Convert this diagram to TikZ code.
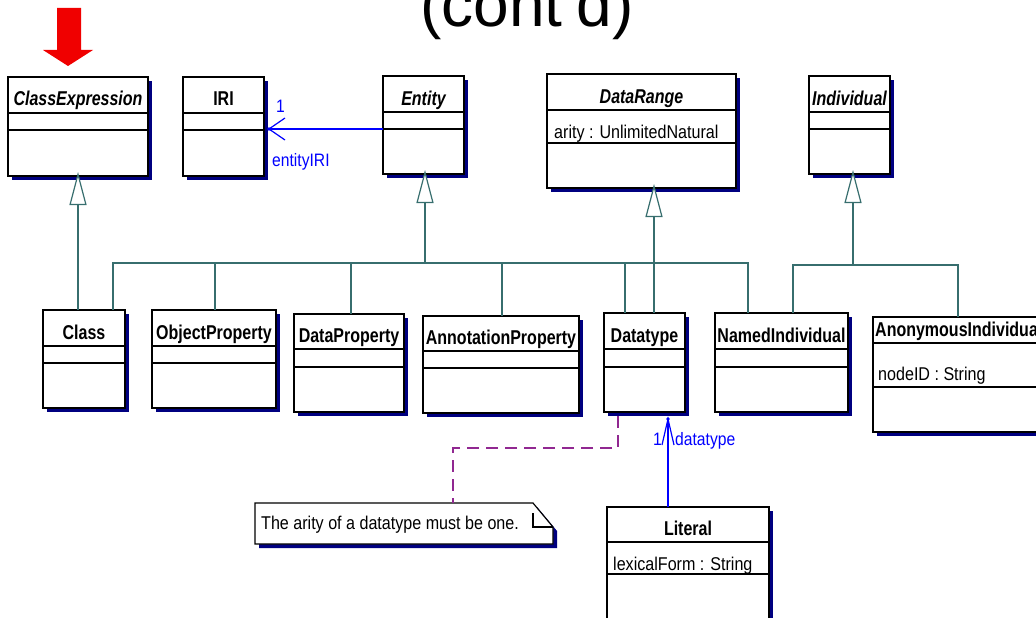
\documentclass[tikz,border=0pt]{standalone}
\usepackage{fontspec}
\setmainfont{Liberation Sans}
\newfontfamily\attrfont[FakeStretch=0.87]{Liberation Sans}
\newfontfamily\namefont[FakeStretch=0.80]{Liberation Sans}
\usetikzlibrary{arrows.meta, calc}

\definecolor{umlnavy}{RGB}{0,0,128}
\definecolor{gencol}{RGB}{55,110,110}
\definecolor{assoccol}{RGB}{0,0,255}
\definecolor{notecol}{RGB}{145,40,145}
\definecolor{pointer}{RGB}{240,0,0}

\tikzset{
  umlshadow/.style={fill=umlnavy},
  classbox/.style={draw=black, fill=white, line width=1.2pt, inner sep=0pt,
    outer sep=0pt, anchor=north west, rectangle},
  compart/.style={draw=black, line width=1.2pt},
  cname/.style={anchor=base, inner sep=0pt, font=\namefont\bfseries\fontsize{20}{20}\selectfont},
  cattr/.style={anchor=base west, inner sep=0pt, font=\attrfont\fontsize{18.5}{18.5}\selectfont},
  rolelabel/.style={anchor=base west, inner sep=0pt, text=assoccol,
    font=\attrfont\fontsize{18}{18}\selectfont},
  inh/.style={draw=gencol, line width=1.2pt},
  gen/.style={inh, -{Triangle[open, length=33pt, width=17pt, line width=1.2pt, fill=white]}},
  assoc/.style={draw=assoccol, line width=1.2pt},
  headdot/.style={fill=assoccol},
  notelink/.style={draw=notecol, line width=1.2pt, dash pattern=on 12pt off 7pt},
}

% class box: name, left, top, right, bottom, first and second compartment lines
\newcommand\umlclass[7]{%
  \fill[umlshadow] (#2+4,#3+4) rectangle (#4+4,#5+4);
  \node[classbox, minimum width={#4-#2}, minimum height={#5-#3}] (#1) at (#2,#3) {};
  \draw[compart] (#2,#6) -- (#4,#6) (#2,#7) -- (#4,#7);
}

\begin{document}
\begin{tikzpicture}[x=1pt, y=-1pt]
\useasboundingbox (0,0) rectangle (1036,618);
\clip (0,0) rectangle (1036,618);

% heading, cut by the top edge
\node[anchor=base west, inner sep=0pt, font=\fontsize{64}{64}\selectfont] (heading) at (420,27) {(cont'd)};

% red pointer
\fill[pointer] (57,8) -- (81,8) -- (81,50) -- (93,50) -- (68,66) -- (43,50) -- (57,50) -- cycle;

% upper row
\umlclass{ClassExpression}{8}{77}{148}{176}{113}{130}
\umlclass{IRI}{183}{77}{264}{176}{113}{130}
\umlclass{Entity}{383}{76}{464}{174}{112}{129}
\umlclass{DataRange}{547}{74}{736}{188}{110}{143}
\umlclass{Individual}{809}{76}{890}{174}{112}{129}

% lower row
\umlclass{Class}{43}{310}{125}{408}{346}{363}
\umlclass{ObjectProperty}{152}{310}{276}{408}{346}{363}
\umlclass{DataProperty}{294}{314}{404}{412}{349}{367}
\umlclass{AnnotationProperty}{423}{316}{579}{413}{351}{368}
\umlclass{Datatype}{604}{313}{685}{412}{349}{367}
\umlclass{NamedIndividual}{715}{313}{848}{412}{349}{367}
\umlclass{AnonymousIndividual}{873}{317}{1060}{432}{343}{387}
\umlclass{Literal}{607}{507}{769}{640}{542}{574}

% class names
\node[cname] (ClassExpression-n) at (78,106) {\itshape ClassExpression};
\node[cname] (IRI-n) at (223.5,106) {IRI};
\node[cname] (Entity-n) at (423.5,105) {\itshape Entity};
\node[cname] (DataRange-n) at (641.5,103) {\itshape DataRange};
\node[cname] (Individual-n) at (849.5,105) {\itshape Individual};
\node[cname] (Class-n) at (84,339) {Class};
\node[cname] (ObjectProperty-n) at (214,339) {ObjectProperty};
\node[cname] (DataProperty-n) at (349,342) {DataProperty};
\node[cname] (AnnotationProperty-n) at (501,344) {AnnotationProperty};
\node[cname] (Datatype-n) at (644.5,342) {Datatype};
\node[cname] (NamedIndividual-n) at (781.5,342) {NamedIndividual};
\node[cname, anchor=base west] (AnonymousIndividual-n) at (875,336) {AnonymousIndividual};
\node[cname] (Literal-n) at (688,535) {Literal};

% attributes
\node[cattr] (DataRange-a) at (554,138) {arity : UnlimitedNatural};
\node[cattr] (AnonymousIndividual-a) at (878,380) {nodeID : String};
\node[cattr] (Literal-a) at (613,570) {lexicalForm : String};

% generalisation: ClassExpression
\draw[gen, shorten >=-4pt] ([xshift=35pt]Class.north west) -- (ClassExpression.south);

% generalisation: Entity and its subclasses
\coordinate (eb) at (425,263);
\draw[gen, shorten >=-4pt] (eb) -- (eb |- Entity.south);
\draw[inh] (eb) -| ([xshift=70pt]Class.north west);
\draw[inh] (eb) -| ([xshift=63pt]ObjectProperty.north west);
\draw[inh] (eb) -| ([xshift=57pt]DataProperty.north west);
\draw[inh] (eb) -| ([xshift=79pt]AnnotationProperty.north west);
\draw[inh] (eb) -| ([xshift=21pt]Datatype.north west);
\draw[inh] (eb) -| ([xshift=33pt]NamedIndividual.north west);

% generalisation: DataRange
\coordinate (drb) at ([xshift=50pt]Datatype.north west);
\draw[gen, shorten >=-4pt] (drb) -- (drb |- DataRange.south);

% generalisation: Individual
\coordinate (ib) at (853,265);
\draw[gen, shorten >=-4pt] (ib) -- (ib |- Individual.south);
\draw[inh] (ib) -| ([xshift=78pt]NamedIndividual.north west);
\draw[inh] (ib) -| ([xshift=85pt]AnonymousIndividual.north west);

% association Entity -> IRI, open head at the IRI side
\coordinate (ea) at ([yshift=-4pt]Entity.west);
\coordinate (iritip) at ($(ea -| IRI.east)+(5,0)$);
\draw[assoc] (ea) -- (iritip);
\draw[assoc] ($(iritip)+(16,-11)$) -- (iritip) -- ($(iritip)+(16,11)$);
\fill[headdot] (iritip) circle (1.8pt);
\node[rolelabel] (iri-mult) at (276,112) {1};
\node[rolelabel] (iri-role) at (272,166) {entityIRI};

% association Literal -> Datatype, open head at the Datatype side
\coordinate (lt) at ([xshift=61pt]Literal.north west);
\coordinate (dttip) at ($(lt |- Datatype.south)+(0,7)$);
\draw[assoc] (lt) -- (dttip);
\draw[assoc] ($(dttip)+(-6,26)$) -- (dttip) -- ($(dttip)+(6,26)$);
\fill[headdot] (dttip) circle (1.8pt);
\node[rolelabel] (dt-mult) at (653,445) {1};
\node[rolelabel] (dt-role) at (675,445) {datatype};

% constraint note
\fill[umlshadow] (259,507) -- (537,507) -- (557,531) -- (557,548) -- (259,548) -- cycle;
\node[inner sep=0pt, outer sep=0pt, anchor=north west, minimum width=298pt, minimum height=41pt] (Note) at (255,503) {};
\filldraw[fill=white, draw=black, line width=1.2pt]
  (Note.north west) -- ([xshift=-20pt]Note.north east) -- ([yshift=-24pt]Note.north east)
  -- (Note.south east) -- (Note.south west) -- cycle;
\draw[black, line width=1.2pt] ([xshift=-20pt, yshift=-10pt]Note.north east) -- ([xshift=-20pt, yshift=-24pt]Note.north east)
  -- ([yshift=-24pt]Note.north east);
\node[cattr] (Note-t) at (261,529) {The arity of a datatype must be one.};

% note attachment
\coordinate (ds) at ([xshift=14pt, yshift=-4pt]Datatype.south west);
\draw[notelink] (ds) -- ++(0,32) -| ([xshift=198pt]Note.north west);
\end{tikzpicture}
\end{document}
